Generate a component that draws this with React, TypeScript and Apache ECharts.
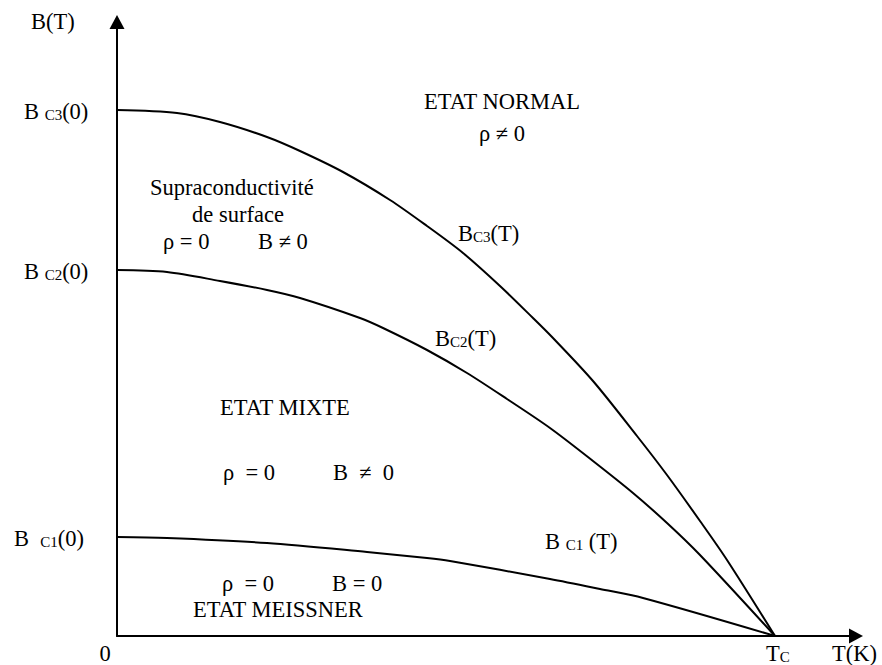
import React, { useEffect, useRef } from "react";
import * as echarts from "echarts";

// Temperature axis (arbitrary units), critical temperature and axis extents
const T_C = 6.58;
const T_AXIS_MAX = 7.39;
const B_AXIS_MAX = 6.14;

// Critical field curves B_C(T), read as [T, B] pairs
const bc3Curve: [number, number][] = [
  [0, 5.26], [0.6, 5.23], [1.03, 5.14], [1.5, 4.99], [1.83, 4.85], [2.26, 4.64],
  [2.73, 4.36], [3.1, 4.1], [3.46, 3.83], [3.83, 3.5], [4.16, 3.18], [4.36, 2.98],
  [4.76, 2.55], [5.2, 2.0], [5.5, 1.61], [5.83, 1.15], [6.1, 0.76], [T_C, 0],
];
const bc2Curve: [number, number][] = [
  [0, 3.66], [0.5, 3.64], [1.03, 3.55], [1.5, 3.46], [1.83, 3.38], [2.43, 3.18],
  [2.66, 3.08], [3.1, 2.86], [3.5, 2.63], [3.9, 2.37], [4.33, 2.08], [4.76, 1.75],
  [5.16, 1.43], [5.5, 1.13], [5.83, 0.81], [T_C, 0],
];
const bc1Curve: [number, number][] = [
  [0, 0.99], [0.5, 0.98], [1.5, 0.93], [2.5, 0.84], [3.1, 0.78], [3.33, 0.75],
  [4.33, 0.57], [4.83, 0.47], [5.26, 0.38], [T_C, 0],
];

const seriesNames = ["Bc3", "Bc2", "Bc1"];

const FONT = "Liberation Serif";
const MAIN = 22.5;
const SUB = 15;

const rich = {
  m: { fontSize: MAIN, fontFamily: FONT, color: "#000", lineHeight: 25, verticalAlign: "bottom" },
  s: { fontSize: SUB, fontFamily: FONT, color: "#000", lineHeight: 14, verticalAlign: "bottom" },
};

function txt(text: string, x: number, y: number, align: string = "left") {
  return {
    type: "text",
    x,
    y,
    silent: true,
    style: {
      text,
      rich,
      fontFamily: FONT,
      fontSize: MAIN,
      fill: "#000",
      align,
      verticalAlign: "middle",
    },
  };
}

export default function App() {
  const ref = useRef<HTMLDivElement>(null);

  useEffect(() => {
    if (!ref.current) return;
    const chart = echarts.init(ref.current, undefined, { renderer: "svg" });

    const axisCommon = {
      type: "value",
      min: 0,
      axisLine: {
        show: true,
        symbol: ["none", "triangle"],
        symbolSize: [15, 14],
        lineStyle: { color: "#000", width: 2 },
      },
      axisTick: { show: false },
      axisLabel: { show: false },
      splitLine: { show: false },
    };

    const curves = [bc3Curve, bc2Curve, bc1Curve];

    chart.setOption({
      animation: false,
      backgroundColor: "#fff",
      textStyle: { fontFamily: FONT },
      grid: { left: 117, right: 26, top: 22, bottom: 29, containLabel: false },
      xAxis: { ...axisCommon, max: T_AXIS_MAX },
      yAxis: { ...axisCommon, max: B_AXIS_MAX },
      series: curves.map((d, i) => ({
        name: seriesNames[i],
        type: "line",
        data: d,
        showSymbol: false,
        smooth: 0.3,
        lineStyle: { color: "#000", width: 2 },
        z: 3,
      })),
      graphic: [
        txt("{m|B(T)}", 31, 20),
        txt("{m|B }{s|C3}{m|(0)}", 24, 110),
        txt("{m|B }{s|C2}{m|(0)}", 24, 270),
        txt("{m|B  }{s|C1}{m|(0)}", 14, 537),
        txt("{m|0}", 105, 652, "center"),
        txt("{m|T}{s|C}", 766, 652),
        txt("{m|T(K)}", 832, 652),

        txt("{m|ETAT NORMAL}", 502, 100, "center"),
        txt("{m|ρ ≠ 0}", 502, 132, "center"),

        txt("{m|Supraconductivité}", 150, 186),
        txt("{m|de surface}", 238, 213, "center"),
        txt("{m|ρ = 0}", 163, 240),
        txt("{m|B ≠ 0}", 258, 240),

        txt("{m|B}{s|C3}{m|(T)}", 458, 232),
        txt("{m|B}{s|C2}{m|(T)}", 435, 337),

        txt("{m|ETAT MIXTE}", 220, 406),
        txt("{m|ρ  = 0}", 223, 471),
        txt("{m|B  ≠  0}", 333, 471),

        txt("{m|B }{s|C1}{m| (T)}", 545, 540),

        txt("{m|ρ  = 0}", 222, 582),
        txt("{m|B = 0}", 332, 582),
        txt("{m|ETAT MEISSNER}", 193, 608),
      ],
    });

    return () => chart.dispose();
  }, []);

  return (
    <div
      ref={ref}
      style={{ position: "fixed", left: 0, top: 0, width: 882, height: 665, background: "#fff" }}
    />
  );
}
